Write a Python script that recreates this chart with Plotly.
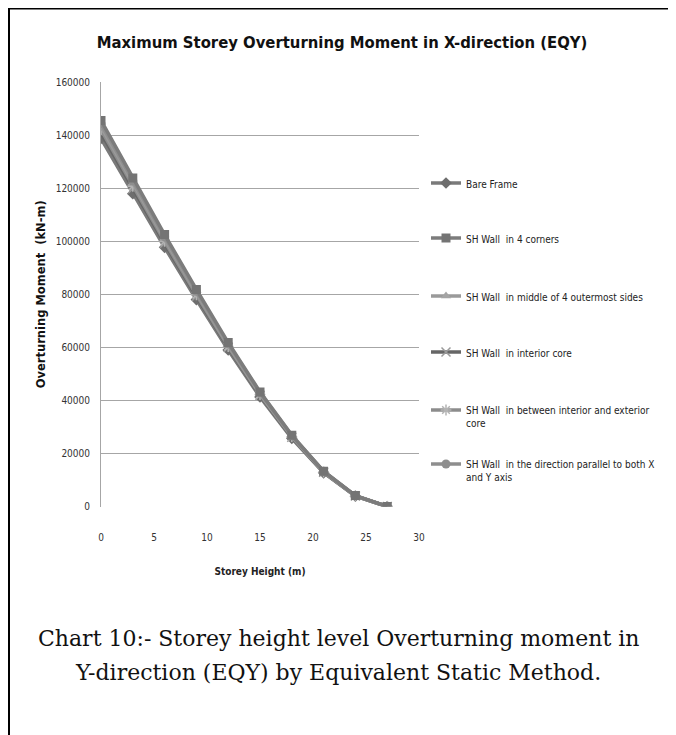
import plotly.graph_objects as go

storey_height = [0, 3, 6, 9, 12, 15, 18, 21, 24, 27]

bare_frame = [138700, 117900, 97700, 78000, 59000, 41300, 25700, 12700, 3900, 0]
corners_4 = [145500, 123800, 102500, 81800, 61800, 43200, 26900, 13300, 4100, 0]
middle_sides = [143200, 121800, 100800, 80500, 60800, 42500, 26500, 13100, 4000, 0]
interior_core = [140800, 119800, 99200, 79200, 59900, 41900, 26100, 12900, 3950, 0]
between_cores = [142000, 120700, 99900, 79800, 60300, 42200, 26300, 13000, 4000, 0]
parallel_xy = [144300, 122700, 101600, 81100, 61300, 42900, 26700, 13200, 4050, 0]

series_names = [
    "Bare Frame",
    "SH Wall  in 4 corners",
    "SH Wall  in middle of 4 outermost sides",
    "SH Wall  in interior core",
    "SH Wall  in between interior and exterior<br>core",
    "SH Wall  in the direction parallel to both X<br>and Y axis",
]

y_ticks = [0, 20000, 40000, 60000, 80000, 100000, 120000, 140000, 160000]
y_tick_text = [str(v) for v in y_ticks]
x_ticks = [0, 5, 10, 15, 20, 25, 30]

# page is drawn with an 8px body margin, so the figure is 8px smaller each way
OFF = 8
W, H = 676 - OFF, 735 - OFF
narrow = "Liberation Sans Narrow, Arial Narrow, DejaVu Sans Condensed, sans-serif"


def px_x(x):
    return (x - OFF) / W


def px_y(y):
    return 1 - (y - OFF) / H


styles = [
    dict(line_color="#7a7a7a", marker=dict(symbol="diamond", size=9, color="#6e6e6e")),
    dict(line_color="#7c7c7c", marker=dict(symbol="square", size=9, color="#747474")),
    dict(line_color="#9a9a9a", marker=dict(symbol="triangle-up", size=9, color="#a4a4a4")),
    dict(line_color="#666666", marker=dict(symbol="x-thin", size=9, color="#9a9a9a", line=dict(width=1.5, color="#9a9a9a"))),
    dict(line_color="#8c8c8c", marker=dict(symbol="asterisk", size=9, color="#b4b4b4", line=dict(width=1.5, color="#b4b4b4"))),
    dict(line_color="#8e8e8e", marker=dict(symbol="circle", size=9, color="#8e8e8e")),
]
legend_tops = [170, 225, 283, 339, 397, 451]

all_series = [bare_frame, corners_4, middle_sides, interior_core, between_cores, parallel_xy]
draw_order = [0, 3, 4, 2, 5, 1]

fig = go.Figure()
for i in draw_order:
    st = styles[i]
    fig.add_trace(go.Scatter(
        x=storey_height, y=all_series[i], mode="lines+markers", name=series_names[i],
        line=dict(color=st["line_color"], width=3.5), marker=st["marker"],
        legend="legend" if i == 0 else f"legend{i + 1}",
    ))

legend_layout = {}
for i, top in enumerate(legend_tops):
    key = "legend" if i == 0 else f"legend{i + 1}"
    legend_layout[key] = dict(
        x=px_x(426), xanchor="left", y=px_y(top), yanchor="top",
        font=dict(family=narrow, size=10, color="#222222"),
        valign="top", itemwidth=30, bgcolor="rgba(0,0,0,0)",
    )

fig.update_layout(
    width=W, height=H,
    margin=dict(l=0, r=0, t=0, b=0),
    paper_bgcolor="white", plot_bgcolor="white",
    font=dict(family=narrow, size=10, color="#333333"),
    title=dict(
        text="Maximum Storey Overturning Moment in X-direction (EQY)",
        x=0.5, xref="container", xanchor="center", y=1 - (42 - OFF) / H, yanchor="middle",
        font=dict(family=narrow, size=16.5, color="#111111", weight="bold"),
    ),
    showlegend=True,
    **legend_layout,
)

fig.update_xaxes(
    domain=[px_x(101), px_x(419)],
    range=[0, 30], tickvals=x_ticks, showgrid=False, zeroline=False,
    showline=False, ticks="", ticklabelstandoff=23,
    tickfont=dict(family=narrow, size=10, color="#333333"),
    title=dict(text="Storey Height (m)", standoff=26,
               font=dict(family=narrow, size=10, color="#222222", weight="bold")),
    automargin=False,
)
fig.update_yaxes(
    domain=[px_y(506.5), px_y(82)],
    range=[0, 160000], tickvals=y_ticks, ticktext=y_tick_text,
    showgrid=True, gridcolor="#a6a6a6", gridwidth=1,
    zeroline=False, showline=True, linecolor="#a6a6a6", linewidth=1, ticks="",
    ticklabelstandoff=8,
    tickfont=dict(family=narrow, size=10, color="#333333"),
    title=dict(text="Overturning Moment  (kN-m)", standoff=7,
               font=dict(family="DejaVu Sans", size=11.5, color="#111111", weight="bold")),
    automargin=False,
)

# outer frame of the figure
fig.add_shape(type="rect", xref="paper", yref="paper",
              x0=px_x(9), x1=px_x(670), y0=px_y(760), y1=px_y(8.5),
              line=dict(color="black", width=2), fillcolor="rgba(0,0,0,0)", layer="below")

caption_lines = [
    "Chart 10:- Storey height level Overturning moment in",
    "Y-direction (EQY) by Equivalent Static Method.",
]
for line, y in zip(caption_lines, [638, 672]):
    fig.add_annotation(
        text=line, xref="paper", yref="paper", x=px_x(338), y=px_y(y),
        xanchor="center", yanchor="middle", showarrow=False,
        font=dict(family="DejaVu Serif, Liberation Serif, serif", size=22, color="#111111"),
    )

fig.write_html("out.html")
